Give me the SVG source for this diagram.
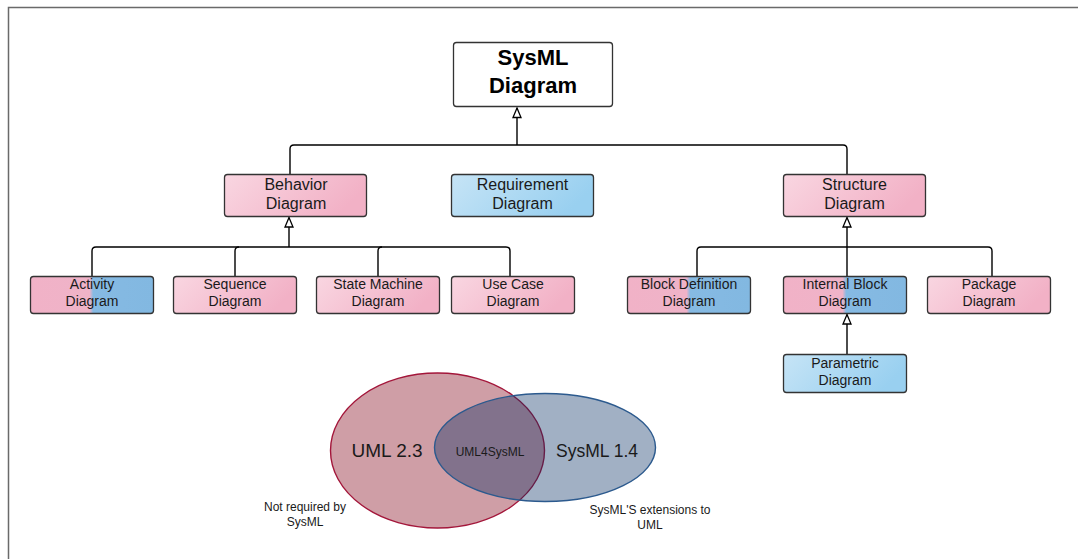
<svg xmlns="http://www.w3.org/2000/svg" width="1078" height="559" viewBox="0 0 1078 559">
  <style>
    .frame { fill: none; stroke: #6a6a6a; stroke-width: 1.5; }
    .node { stroke: #333333; stroke-width: 1.3; }
    .lbl { font-family: "Liberation Sans", Arial, sans-serif; fill: #1a1a1a; text-anchor: middle; }
    .top { font-size: 22px; font-weight: bold; fill: #000000; }
    .mid { font-size: 16px; }
    .low { font-size: 14px; }
    .conn { fill: none; stroke: #000000; stroke-width: 1.4; }
    .venn-big { font-size: 19px; }
    .venn-note { font-size: 12px; }
  </style>
  <defs>
    <linearGradient id="pinkGrad" x1="0" y1="0" x2="1" y2="0.3">
      <stop offset="0" stop-color="#f9d6e1"/>
      <stop offset="1" stop-color="#f2b1c6"/>
    </linearGradient>
    <linearGradient id="blueGrad" x1="0" y1="0" x2="1" y2="0.3">
      <stop offset="0" stop-color="#c6e4f6"/>
      <stop offset="1" stop-color="#99d0f0"/>
    </linearGradient>
    <linearGradient id="splitGrad" x1="0" y1="0" x2="1" y2="0">
      <stop offset="0" stop-color="#f1b2c7"/>
      <stop offset="0.48" stop-color="#efb3c8"/>
      <stop offset="0.51" stop-color="#86bae3"/>
      <stop offset="1" stop-color="#82b8e1"/>
    </linearGradient>
    <marker id="gen" markerUnits="userSpaceOnUse" markerWidth="14" markerHeight="14" viewBox="-12 -6 14 12" refX="0" refY="0" orient="auto">
      <path d="M0,0 L-9.5,-4 L-9.5,4 Z" fill="#ffffff" stroke="#000000" stroke-width="1.3" stroke-linejoin="miter"/>
    </marker>
  </defs>

  <!-- outer frame -->
  <path class="frame" d="M8.5,559 V7.5 H1078"/>

  <!-- connectors -->
  <g id="connectors">
    <path class="conn" d="M290,174 V149 Q290,145 294,145 H843 Q847,145 847,149 V174"/>
    <path class="conn" d="M517,145 V108" marker-end="url(#gen)"/>

    <path class="conn" d="M92,276 V251 Q92,247 96,247 H506 Q510,247 510,251 V276"/>
    <path class="conn" d="M235,276 V251 Q235,247 239,247"/>
    <path class="conn" d="M378,276 V251 Q378,247 382,247"/>
    <path class="conn" d="M289,247 V217.5" stroke-width="2.2" marker-end="url(#gen)"/>

    <path class="conn" d="M697,276 V251 Q697,247 701,247 H988 Q992,247 992,251 V276"/>
    <path class="conn" d="M847,276 V247"/>
    <path class="conn" d="M847,247 V217.5" marker-end="url(#gen)"/>

    <path class="conn" d="M847,354 V314.5" marker-end="url(#gen)"/>
  </g>

  <!-- root -->
  <g id="node-sysml">
    <rect class="node" x="453.5" y="42.5" width="159" height="64" rx="3" fill="#ffffff"/>
    <text class="lbl top" x="533" y="65">SysML</text>
    <text class="lbl top" x="533" y="93">Diagram</text>
  </g>

  <!-- second level -->
  <g id="node-behavior">
    <rect class="node" x="224.5" y="174.5" width="142" height="42" rx="3" fill="url(#pinkGrad)"/>
    <text class="lbl mid" x="296" y="190">Behavior</text>
    <text class="lbl mid" x="296" y="209">Diagram</text>
  </g>
  <g id="node-requirement">
    <rect class="node" x="451.5" y="174.5" width="142" height="42" rx="3" fill="url(#blueGrad)"/>
    <text class="lbl mid" x="522.5" y="190">Requirement</text>
    <text class="lbl mid" x="522.5" y="209">Diagram</text>
  </g>
  <g id="node-structure">
    <rect class="node" x="783.5" y="174.5" width="142" height="42" rx="3" fill="url(#pinkGrad)"/>
    <text class="lbl mid" x="854.5" y="190">Structure</text>
    <text class="lbl mid" x="854.5" y="209">Diagram</text>
  </g>

  <!-- behaviour children -->
  <g id="node-activity">
    <rect class="node" x="30.5" y="276.5" width="123" height="37" rx="3" fill="url(#splitGrad)"/>
    <text class="lbl low" x="92" y="289">Activity</text>
    <text class="lbl low" x="92" y="306">Diagram</text>
  </g>
  <g id="node-sequence">
    <rect class="node" x="173.5" y="276.5" width="123" height="37" rx="3" fill="url(#pinkGrad)"/>
    <text class="lbl low" x="235" y="289">Sequence</text>
    <text class="lbl low" x="235" y="306">Diagram</text>
  </g>
  <g id="node-statemachine">
    <rect class="node" x="316.5" y="276.5" width="123" height="37" rx="3" fill="url(#pinkGrad)"/>
    <text class="lbl low" x="378" y="289">State Machine</text>
    <text class="lbl low" x="378" y="306">Diagram</text>
  </g>
  <g id="node-usecase">
    <rect class="node" x="451.5" y="276.5" width="123" height="37" rx="3" fill="url(#pinkGrad)"/>
    <text class="lbl low" x="513" y="289">Use Case</text>
    <text class="lbl low" x="513" y="306">Diagram</text>
  </g>

  <!-- structure children -->
  <g id="node-bdd">
    <rect class="node" x="627.5" y="276.5" width="123" height="37" rx="3" fill="url(#splitGrad)"/>
    <text class="lbl low" x="689" y="289">Block Definition</text>
    <text class="lbl low" x="689" y="306">Diagram</text>
  </g>
  <g id="node-ibd">
    <rect class="node" x="783.5" y="276.5" width="123" height="37" rx="3" fill="url(#splitGrad)"/>
    <text class="lbl low" x="845" y="289">Internal Block</text>
    <text class="lbl low" x="845" y="306">Diagram</text>
  </g>
  <g id="node-package">
    <rect class="node" x="927.5" y="276.5" width="123" height="37" rx="3" fill="url(#pinkGrad)"/>
    <text class="lbl low" x="989" y="289">Package</text>
    <text class="lbl low" x="989" y="306">Diagram</text>
  </g>
  <g id="node-parametric">
    <rect class="node" x="783.5" y="354.5" width="123" height="38" rx="3" fill="url(#blueGrad)"/>
    <text class="lbl low" x="845" y="368">Parametric</text>
    <text class="lbl low" x="845" y="385">Diagram</text>
  </g>

  <!-- Venn: UML vs SysML -->
  <g id="venn">
    <ellipse cx="437.5" cy="450.5" rx="107" ry="77.5" fill="#9f3d4d" fill-opacity="0.5" stroke="#a3163a" stroke-width="1.4"/>
    <ellipse cx="545" cy="447.5" rx="110.5" ry="54" fill="#002a60" fill-opacity="0.37" stroke="#2c5a8e" stroke-width="1.4"/>
    <text class="lbl venn-big" x="387" y="457">UML 2.3</text>
    <text class="lbl" x="490" y="456" font-size="12">UML4SysML</text>
    <text class="lbl" x="597" y="457" font-size="17.5">SysML 1.4</text>
    <text class="lbl venn-note" x="305" y="511">Not required by</text>
    <text class="lbl venn-note" x="305" y="526">SysML</text>
    <text class="lbl venn-note" x="650" y="514">SysML'S extensions to</text>
    <text class="lbl venn-note" x="650" y="529">UML</text>
  </g>
</svg>
